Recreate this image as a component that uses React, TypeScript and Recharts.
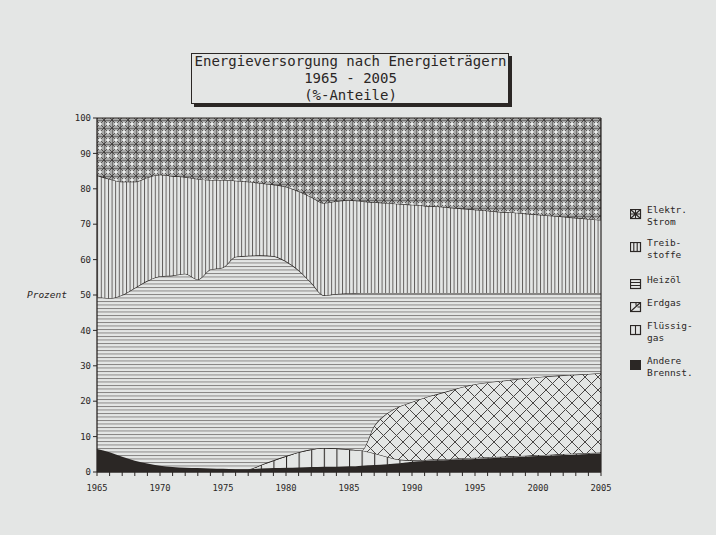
import { AreaChart, Area, XAxis, YAxis, ReferenceLine } from "recharts";

const BG = "#e4e6e5";
const INK = "#2b2725";

const years = [
  1965, 1966, 1967, 1968, 1969, 1970, 1971, 1972, 1973, 1974,
  1975, 1976, 1977, 1978, 1979, 1980, 1981, 1982, 1983, 1984,
  1985, 1986, 1987, 1988, 1989, 1990, 1991, 1992, 1993, 1994,
  1995, 1996, 1997, 1998, 1999, 2000, 2001, 2002, 2003, 2004, 2005,
];

// Anteile in Prozent, von unten nach oben gestapelt
const andere = [
  6.5, 5.6, 4.3, 3.2, 2.4, 1.8, 1.4, 1.2, 1.1, 1.0,
  0.9, 0.8, 0.8, 1.0, 1.1, 1.2, 1.3, 1.4, 1.5, 1.5,
  1.6, 1.8, 2.0, 2.2, 2.5, 2.9, 3.1, 3.3, 3.4, 3.6,
  3.7, 3.9, 4.0, 4.2, 4.3, 4.5, 4.6, 4.8, 4.9, 5.1, 5.2,
];
const fluessiggas = [
  0, 0, 0, 0, 0, 0, 0, 0, 0, 0,
  0, 0, 0, 1.0, 2.2, 3.3, 4.3, 5.0, 5.3, 5.2,
  4.8, 4.3, 3.3, 2.1, 1.0, 0.4, 0.3, 0.3, 0.3, 0.3,
  0.3, 0.3, 0.3, 0.3, 0.3, 0.3, 0.3, 0.3, 0.3, 0.3, 0.3,
];
const erdgas = [
  0, 0, 0, 0, 0, 0, 0, 0, 0, 0,
  0, 0, 0, 0, 0, 0, 0, 0, 0, 0,
  0, 0, 7.7, 12.2, 15.0, 16.5, 17.6, 18.4, 19.3, 20.1,
  20.8, 21.1, 21.4, 21.6, 21.9, 22.0, 22.2, 22.2, 22.3, 22.3, 22.4,
];
const heizoel = [
  43.0, 43.5, 45.7, 48.8, 51.6, 53.5, 54.1, 54.8, 53.3, 56.2,
  56.9, 60.0, 60.3, 59.2, 57.7, 55.0, 51.4, 47.1, 43.1, 43.6,
  44.1, 44.5, 37.6, 34.1, 32.1, 30.8, 29.6, 28.6, 27.6, 26.6,
  25.8, 25.3, 24.9, 24.5, 24.1, 23.8, 23.5, 23.3, 23.1, 22.9, 22.7,
];
const treibstoffe = [
  34.3, 33.7, 32.0, 30.0, 29.2, 28.7, 28.1, 27.3, 28.4, 25.3,
  24.7, 21.5, 20.9, 20.4, 20.2, 21.1, 22.3, 24.2, 26.1, 26.2,
  26.3, 25.9, 25.6, 25.4, 25.1, 24.9, 24.6, 24.4, 24.1, 23.8,
  23.5, 23.2, 22.9, 22.7, 22.4, 22.1, 21.8, 21.5, 21.2, 20.9, 20.6,
];
const strom = [
  16.2, 17.2, 18.0, 18.0, 16.8, 16.0, 16.4, 16.7, 17.2, 17.5,
  17.5, 17.7, 18.0, 18.4, 18.8, 19.4, 20.7, 22.3, 24.0, 23.5,
  23.2, 23.5, 23.8, 24.0, 24.3, 24.5, 24.8, 25.0, 25.3, 25.6,
  25.9, 26.2, 26.5, 26.7, 27.0, 27.3, 27.6, 27.9, 28.2, 28.5, 28.8,
];

const yTicks = [0, 10, 20, 30, 40, 50, 60, 70, 80, 90, 100];

const data = years.map((year, i) => ({
  year,
  andere: andere[i],
  fluessiggas: fluessiggas[i],
  erdgas: erdgas[i],
  heizoel: heizoel[i],
  treibstoffe: treibstoffe[i],
  strom: strom[i],
}));

const MONO = "'DejaVu Sans Mono', monospace";

const legendItems = [
  { key: "strom", lines: ["Elektr.", "Strom"], top: 204 },
  { key: "treib", lines: ["Treib-", "stoffe"], top: 237 },
  { key: "heiz", lines: ["Heizöl"], top: 274 },
  { key: "erdgas", lines: ["Erdgas"], top: 297 },
  { key: "fluess", lines: ["Flüssig-", "gas"], top: 320 },
  { key: "andere", lines: ["Andere", "Brennst."], top: 355 },
];

function LegendIcon({ kind }: { kind: string }) {
  const box = <rect x={0.5} y={0.5} width={10} height={9} fill={BG} stroke={INK} strokeWidth={1.2} />;
  let inner = null;
  if (kind === "strom") {
    inner = (
      <path d="M5.5 0.5V9.5M0.5 5H10.5M0.5 0.5L10.5 9.5M10.5 0.5L0.5 9.5" stroke={INK} strokeWidth={1.1} />
    );
  } else if (kind === "treib") {
    inner = <path d="M3.8 0.5V9.5M7.2 0.5V9.5" stroke={INK} strokeWidth={1.1} />;
  } else if (kind === "heiz") {
    inner = <path d="M0.5 3.5H10.5M0.5 6.5H10.5" stroke={INK} strokeWidth={1.1} />;
  } else if (kind === "erdgas") {
    inner = <path d="M0.5 9.5L10.5 0.5M6 0.5V3.5M7.5 5H10.5" stroke={INK} strokeWidth={1.1} />;
  } else if (kind === "fluess") {
    inner = <path d="M5.5 0.5V9.5" stroke={INK} strokeWidth={1.1} />;
  } else if (kind === "andere") {
    return (
      <svg width={12} height={11}>
        <rect x={0.5} y={0.5} width={10} height={9} fill={INK} stroke={INK} />
      </svg>
    );
  }
  return (
    <svg width={12} height={11}>
      {box}
      {inner}
    </svg>
  );
}

function XTick(props: any) {
  const { x, y, payload } = props;
  if (payload.value % 5 !== 0) return <g />;
  return (
    <text x={x} y={y + 13} textAnchor="middle" fontFamily={MONO} fontSize={8.8} fill={INK}>
      {payload.value}
    </text>
  );
}

export default function App() {
  return (
    <div style={{ position: "absolute", left: 0, top: 0, width: 716, height: 535, background: BG }}>
      <AreaChart
        width={716}
        height={535}
        data={data}
        margin={{ top: 118, right: 115, bottom: 33, left: 67 }}
      >
        <defs>
          <pattern id="pStrom" patternUnits="userSpaceOnUse" width={8} height={8}>
            <rect width={8} height={8} fill="#a9aaa9" />
            <path d="M0 0L8 8M8 0L0 8" stroke="#444140" strokeWidth={0.9} />
            <path d="M0 0H8M0 0V8" stroke="#3a3736" strokeWidth={1} />
            <circle cx={4} cy={4} r={1.7} fill="#eceeed" />
          </pattern>
          <pattern id="pTreib" patternUnits="userSpaceOnUse" width={3.6} height={6}>
            <rect width={3.6} height={6} fill={BG} />
            <line x1={0.5} y1={0} x2={0.5} y2={6} stroke="#4d4948" strokeWidth={0.9} />
          </pattern>
          <pattern id="pHeiz" patternUnits="userSpaceOnUse" width={6} height={3.5}>
            <rect width={6} height={3.5} fill={BG} />
            <line x1={0} y1={0.5} x2={6} y2={0.5} stroke="#6a6665" strokeWidth={0.8} />
          </pattern>
          <pattern id="pErdgas" patternUnits="userSpaceOnUse" width={13} height={13}>
            <rect width={13} height={13} fill={BG} />
            <path d="M0 0L13 13M13 0L0 13" stroke="#4a4746" strokeWidth={1} />
          </pattern>
          <pattern id="pFluess" patternUnits="userSpaceOnUse" x={97} width={12.6} height={10}>
            <rect width={12.6} height={10} fill={BG} />
            <line x1={0.5} y1={0} x2={0.5} y2={10} stroke={INK} strokeWidth={1.1} />
          </pattern>
        </defs>
        <XAxis
          dataKey="year"
          type="number"
          domain={[1965, 2005]}
          ticks={years}
          interval={0}
          tick={<XTick />}
          tickSize={4}
          height={30}
          axisLine={{ stroke: INK, strokeWidth: 1.3 }}
          tickLine={{ stroke: INK, strokeWidth: 1 }}
        />
        <YAxis
          domain={[0, 100]}
          ticks={yTicks}
          interval={0}
          width={30}
          tickSize={4}
          tickMargin={2}
          axisLine={{ stroke: INK, strokeWidth: 1.3 }}
          tickLine={{ stroke: INK, strokeWidth: 1 }}
          tick={{ fontFamily: MONO, fontSize: 9, fill: INK }}
          label={{
            value: "Prozent",
            position: "left",
            offset: 0,
            fontFamily: MONO,
            fontStyle: "italic",
            fontSize: 9.5,
            fill: INK,
          }}
        />
        <Area type="monotone" dataKey="andere" stackId="a" fill={INK} stroke={INK} strokeWidth={1.2} fillOpacity={1} isAnimationActive={false} />
        <Area type="monotone" dataKey="fluessiggas" stackId="a" fill="url(#pFluess)" stroke={INK} strokeWidth={1.2} fillOpacity={1} isAnimationActive={false} />
        <Area type="monotone" dataKey="erdgas" stackId="a" fill="url(#pErdgas)" stroke={INK} strokeWidth={1.2} fillOpacity={1} isAnimationActive={false} />
        <Area type="monotone" dataKey="heizoel" stackId="a" fill="url(#pHeiz)" stroke={INK} strokeWidth={1.2} fillOpacity={1} isAnimationActive={false} />
        <Area type="monotone" dataKey="treibstoffe" stackId="a" fill="url(#pTreib)" stroke={INK} strokeWidth={1.2} fillOpacity={1} isAnimationActive={false} />
        <Area type="monotone" dataKey="strom" stackId="a" fill="url(#pStrom)" stroke={INK} strokeWidth={1.2} fillOpacity={1} isAnimationActive={false} />
        <ReferenceLine x={2005} stroke={INK} strokeWidth={1.2} />
      </AreaChart>

      <div
        style={{
          position: "absolute",
          left: 191,
          top: 53,
          width: 316,
          height: 49,
          border: `1.5px solid ${INK}`,
          boxShadow: `3px 3px 0 ${INK}`,
          background: BG,
        }}
      />
      <div
        style={{
          position: "absolute",
          left: 191,
          top: 53,
          width: 319,
          textAlign: "center",
          fontFamily: MONO,
          fontSize: 14,
          lineHeight: "17px",
          color: INK,
          whiteSpace: "pre",
        }}
      >
        <div>Energieversorgung nach Energieträgern</div>
        <div>1965 - 2005</div>
        <div>(%-Anteile)</div>
      </div>

      {legendItems.map((item) => (
        <div key={item.key} style={{ position: "absolute", left: 630, top: item.top }}>
          <div style={{ position: "absolute", left: 0, top: 2 }}>
            <LegendIcon kind={item.key} />
          </div>
          <div
            style={{
              position: "absolute",
              left: 17,
              top: 0,
              fontFamily: MONO,
              fontSize: 9.5,
              lineHeight: "11.5px",
              color: INK,
              whiteSpace: "pre",
            }}
          >
            {item.lines.map((l) => (
              <div key={l}>{l}</div>
            ))}
          </div>
        </div>
      ))}
    </div>
  );
}
